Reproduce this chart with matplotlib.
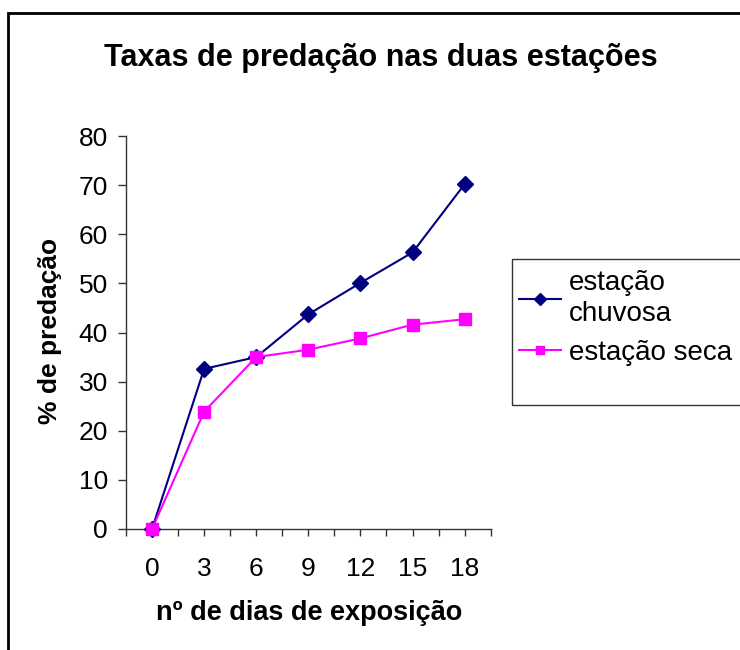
import numpy as np
import matplotlib
matplotlib.use('Agg')
from matplotlib import pyplot as plt
from matplotlib.patches import Rectangle
from matplotlib.ticker import FixedLocator

plt.rcParams['font.family'] = ['Liberation Sans', 'DejaVu Sans']

dias = [0, 3, 6, 9, 12, 15, 18]
chuvosa = [0, 32.6, 35.0, 43.7, 50.1, 56.3, 70.2]
seca = [0, 23.9, 35.0, 36.5, 38.8, 41.6, 42.7]
nomes = ['estação\nchuvosa', 'estação seca']

W, H = 740, 650
fig = plt.figure(figsize=(W/100, H/100), dpi=100)

# axes box in pixels (left, top, right, bottom)
l, t, r, b = 126, 136, 490.7, 529
ax = fig.add_axes([l/W, 1-b/H, (r-l)/W, (b-t)/H])

ax.plot(dias, chuvosa, '-D', color='#000080', lw=1.5, ms=8,
        label=nomes[0], clip_on=False, zorder=3)
ax.plot(dias, seca, '-s', color='#FF00FF', lw=1.5, ms=8,
        label=nomes[1], clip_on=False, zorder=4)

ax.set_xlim(-1.5, 19.5)
ax.set_ylim(0, 80)
ax.set_xticks(dias)
ax.xaxis.set_minor_locator(FixedLocator(np.arange(-1.5, 20, 3)))
ax.set_yticks(np.arange(0, 81, 10))
for s in ['top', 'right']:
    ax.spines[s].set_visible(False)
for s in ['left', 'bottom']:
    ax.spines[s].set_color('#333333')
    ax.spines[s].set_linewidth(1.0)
ax.tick_params(axis='x', which='both', direction='out', length=5,
               width=1, color='#333333', labelsize=19, pad=15)
ax.tick_params(axis='y', direction='out', length=6, width=1,
               color='#333333', labelsize=19, pad=7)

ax.set_xlabel('nº de dias de exposição', fontsize=19.5, fontweight='bold')
ax.xaxis.label.set_va('center')
ax.xaxis.set_label_coords(0.502, (b - 613) / (b - t))
ax.set_ylabel('% de predação', fontsize=19, fontweight='bold')
ax.yaxis.label.set_va('center')
ax.yaxis.set_label_coords((50 - l) / (r - l), 0.505)

fig.text(381/W, 1-58/H, 'Taxas de predação nas duas estações',
         fontsize=22, fontweight='bold', ha='center', va='center')

# outer chart border
fig.patches.append(Rectangle((8/W, -0.1), 1.2, 1.1 - 13/H,
                             transform=fig.transFigure, fill=False,
                             lw=2, ec='black'))
# legend frame
fig.patches.append(Rectangle((512/W, 1-405/H), 0.5, (405-259)/H,
                             transform=fig.transFigure, fill=False,
                             lw=1, ec='#333333'))
leg = fig.legend(loc='upper left', bbox_to_anchor=(519/W, 1-270/H),
                 frameon=False, fontsize=20, handlelength=1.5,
                 handletextpad=0.3, labelspacing=0.45, borderpad=0,
                 borderaxespad=0, markerscale=0.8)
for txt in leg.get_texts():
    txt.set_linespacing(1.25)

fig.savefig('out.png', dpi=100)
